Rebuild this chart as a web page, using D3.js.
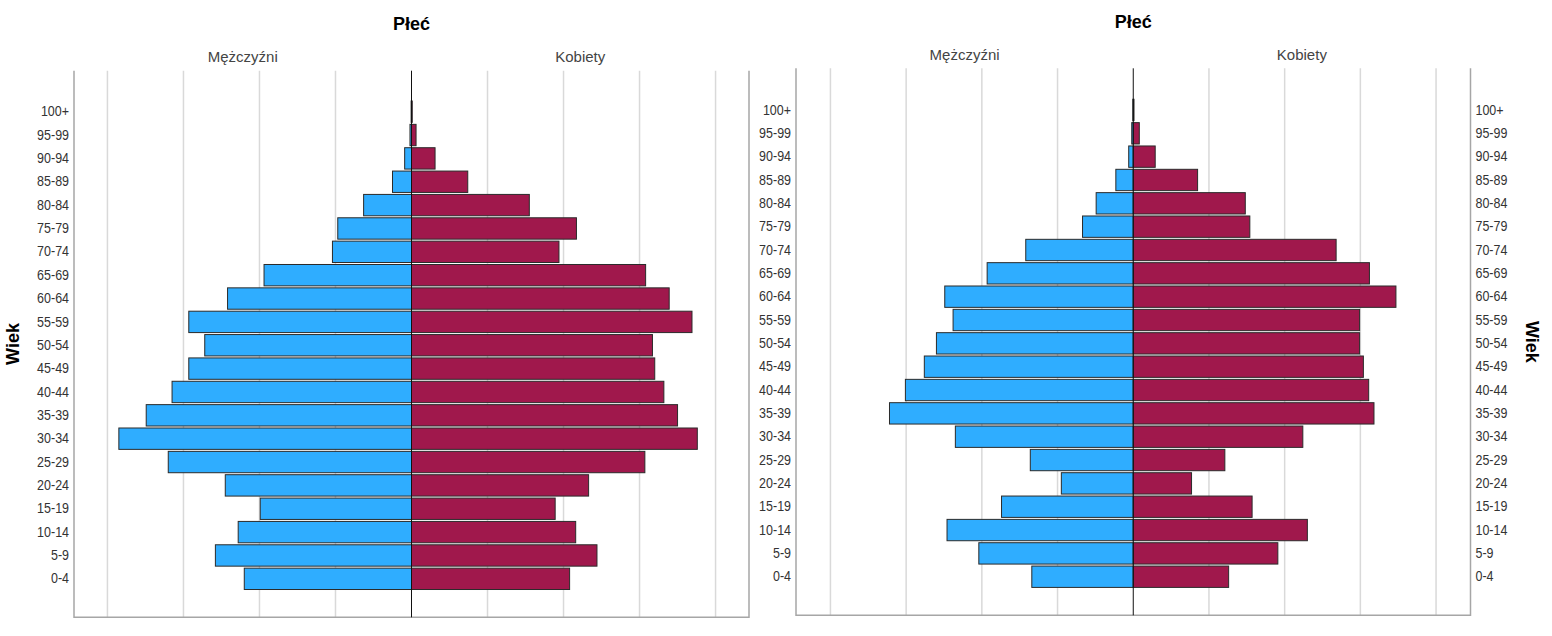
<!DOCTYPE html>
<html>
<head>
<meta charset="utf-8">
<script src="https://cdn.jsdelivr.net/npm/d3@7"></script>
<style>
  html, body { margin: 0; padding: 0; background: #fff; }
  svg { display: block; }
</style>
</head>
<body>
<svg id="chart" width="1552" height="636"></svg>
<script>
// ---- DATA ----
const ageGroups = ["100+","95-99","90-94","85-89","80-84","75-79","70-74","65-69","60-64","55-59",
  "50-54","45-49","40-44","35-39","30-34","25-29","20-24","15-19","10-14","5-9","0-4"];
const sexLabels = ["Mężczyźni", "Kobiety"];
const chartTitle = "Płeć";
const axisTitle = "Wiek";

const leftMale   = [0.5, 2, 9, 25, 63, 97, 104, 194, 242, 293, 272, 293, 315, 349, 385, 320, 245, 199, 228, 258, 220];
const leftFemale = [1, 6, 31, 74, 155, 217, 194, 308, 339, 369, 317, 320, 332, 350, 376, 307, 233, 189, 216, 244, 208];
const rightMale   = [0.5, 2, 6, 23, 49, 67, 142, 193, 249, 238, 260, 276, 301, 322, 235, 136, 95, 174, 246, 204, 134];
const rightFemale = [1, 8, 29, 85, 148, 154, 268, 312, 347, 299, 299, 304, 311, 318, 224, 121, 77, 157, 230, 191, 126];
const gridValues = [-400, -300, -200, -100, 100, 200, 300, 400];

// ---- DRAW ----
const svg = d3.select("#chart");
const COL_M = "#2fadff", COL_F = "#a0184c";
const mainFont = "'Liberation Sans', Arial, sans-serif";

function narrowText(sel) {
  sel.each(function () {
    const len = this.getComputedTextLength();
    d3.select(this).attr("textLength", len * 0.86).attr("lengthAdjust", "spacingAndGlyphs");
  });
}

function drawPanel(cfg) {
  const g = svg.append("g");
  const x = d3.scaleLinear().domain([-cfg.maxV, cfg.maxV]).range([cfg.x0, cfg.x1]);
  const y = d3.scaleBand().domain(ageGroups).range([cfg.bandTop, cfg.bandBottom])
              .paddingInner(0.085).paddingOuter(0.0425);

  // gridlines
  g.selectAll("line.grid").data(gridValues).enter().append("line")
    .attr("x1", d => x(d)).attr("x2", d => x(d))
    .attr("y1", cfg.top).attr("y2", cfg.bottom)
    .attr("stroke", "#d9d9d9").attr("stroke-width", 1.5);

  // frame (left, bottom, right)
  g.append("path")
    .attr("d", `M${cfg.x0},${cfg.top}V${cfg.bottom}H${cfg.x1}V${cfg.top}`)
    .attr("fill", "none").attr("stroke", "#a6a6a6").attr("stroke-width", 1.5);

  const rows = ageGroups.map((a, i) => ({ age: a, m: cfg.male[i], f: cfg.female[i] }));

  g.selectAll("rect.m").data(rows).enter().append("rect")
    .attr("x", d => x(-d.m)).attr("width", d => x(0) - x(-d.m))
    .attr("y", d => y(d.age)).attr("height", y.bandwidth())
    .attr("fill", COL_M).attr("stroke", "#2b2b2b").attr("stroke-width", 1);

  g.selectAll("rect.f").data(rows).enter().append("rect")
    .attr("x", x(0)).attr("width", d => x(d.f) - x(0))
    .attr("y", d => y(d.age)).attr("height", y.bandwidth())
    .attr("fill", COL_F).attr("stroke", "#2b2b2b").attr("stroke-width", 1);

  // center axis line
  g.append("line")
    .attr("x1", x(0)).attr("x2", x(0)).attr("y1", cfg.top).attr("y2", cfg.bottom)
    .attr("stroke", "#111").attr("stroke-width", 1);

  // y tick labels (left)
  const yAxisL = d3.axisLeft(y).tickSize(0).tickPadding(0);
  const ga = g.append("g").attr("transform", `translate(${cfg.x0 - 5},0)`).call(yAxisL);
  ga.select(".domain").remove();
  ga.selectAll("text").attr("font-family", mainFont).attr("font-size", 14.5).attr("fill", "#333")
    .call(narrowText);

  if (cfg.rightLabels) {
    const yAxisR = d3.axisRight(y).tickSize(0).tickPadding(0);
    const gr = g.append("g").attr("transform", `translate(${cfg.x1 + 5},0)`).call(yAxisR);
    gr.select(".domain").remove();
    gr.selectAll("text").attr("font-family", mainFont).attr("font-size", 14.5).attr("fill", "#333")
      .call(narrowText);
  }

  // title
  g.append("text").attr("x", x(0)).attr("y", cfg.titleY)
    .attr("text-anchor", "middle").attr("font-family", mainFont)
    .attr("font-weight", "bold").attr("font-size", 18).attr("fill", "#000")
    .text(chartTitle);

  // sex headers
  g.append("text").attr("x", (cfg.x0 + x(0)) / 2).attr("y", cfg.headY)
    .attr("text-anchor", "middle").attr("font-family", mainFont)
    .attr("font-size", 15).attr("fill", "#444").text(sexLabels[0]);
  g.append("text").attr("x", (x(0) + cfg.x1) / 2).attr("y", cfg.headY)
    .attr("text-anchor", "middle").attr("font-family", mainFont)
    .attr("font-size", 15).attr("fill", "#444").text(sexLabels[1]);

  // axis title "Wiek"
  const midY = (cfg.top + cfg.bottom) / 2;
  g.append("text")
    .attr("transform", `translate(${cfg.wiekX},${midY}) rotate(${cfg.wiekRot})`)
    .attr("text-anchor", "middle").attr("font-family", mainFont)
    .attr("font-weight", "bold").attr("font-size", 18).attr("fill", "#000")
    .text(axisTitle);
}

drawPanel({
  male: leftMale, female: leftFemale, maxV: 444,
  x0: 74, x1: 749, top: 70.7, bottom: 617.3,
  bandTop: 100, bandBottom: 590.5,
  titleY: 30, headY: 61.5, wiekX: 19, wiekRot: -90, rightLabels: false
});

drawPanel({
  male: rightMale, female: rightFemale, maxV: 445.5,
  x0: 796, x1: 1470.5, top: 68.3, bottom: 615.3,
  bandTop: 98.3, bandBottom: 588.4,
  titleY: 28.3, headY: 59.5, wiekX: 1526, wiekRot: 90, rightLabels: true
});
</script>
</body>
</html>
